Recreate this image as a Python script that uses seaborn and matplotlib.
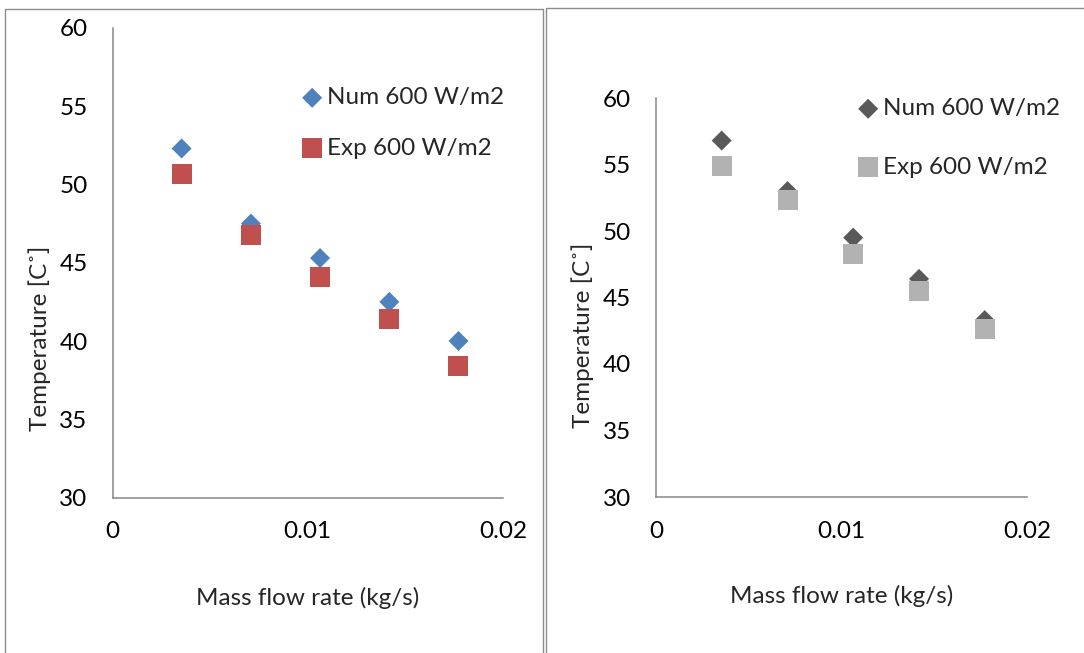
import numpy as np
import pandas as pd
import matplotlib.pyplot as plt
import seaborn as sns
from matplotlib.lines import Line2D

# data
flow_rate = [0.00354, 0.00709, 0.01063, 0.01418, 0.01772]
num_left = [52.3, 47.5, 45.3, 42.5, 40.0]
exp_left = [50.7, 46.8, 44.1, 41.4, 38.4]
num_right = [56.8, 53.0, 49.5, 46.4, 43.3]
exp_right = [54.9, 52.3, 48.3, 45.5, 42.6]
series_labels = ["Num 600 W/m2", "Exp 600 W/m2"]
x_ticks = [0, 0.01, 0.02]
x_tick_labels = ["0", "0.01", "0.02"]
y_ticks = [30, 35, 40, 45, 50, 55, 60]

W, H = 1084, 653
FS = 17.5
AXIS_GREY = "#868686"


def px_rect(left, top, right, bottom):
    """
    Convert a pixel box into figure fractions
    """
    return [left / W, 1 - bottom / H, (right - left) / W, (bottom - top) / H]


def draw_panel(ax, num, exp, colors, ylab_y, xlab_y, leg_xy, leg_spacing):
    """
    Excel-style scatter panel: two series, left/bottom axis lines only
    """
    df = pd.DataFrame({"flow": flow_rate, "num": num, "exp": exp})
    sns.scatterplot(data=df, x="flow", y="num", marker="D", s=104, color=colors[0],
                    edgecolor="none", label=series_labels[0], ax=ax, zorder=3)
    sns.scatterplot(data=df, x="flow", y="exp", marker="s", s=207, color=colors[1],
                    edgecolor="none", label=series_labels[1], ax=ax, zorder=4)
    ax.set_xlim(0, 0.02)
    ax.set_ylim(30, 60)
    ax.set_xticks(x_ticks)
    ax.set_xticklabels(x_tick_labels)
    ax.set_yticks(y_ticks)
    ax.tick_params(length=0, labelsize=FS, colors="black")
    ax.tick_params(axis="x", pad=17)
    ax.tick_params(axis="y", pad=18)
    for side in ["top", "right"]:
        ax.spines[side].set_visible(False)
    for side in ["left", "bottom"]:
        ax.spines[side].set_color(AXIS_GREY)
        ax.spines[side].set_linewidth(1.1)
    ax.grid(False)
    ax.set_facecolor("none")

    ax.set_xlabel("Mass flow rate (kg/s)", fontsize=FS, va="center")
    ax.set_ylabel("Temperature [C˚]", fontsize=FS, va="center")
    ax.xaxis.set_label_coords(0.5, xlab_y)
    ax.yaxis.set_label_coords(ylab_y[0], ylab_y[1])

    ax.legend(loc="center left", bbox_to_anchor=(leg_xy[0] / W, 1 - leg_xy[1] / H),
              bbox_transform=ax.figure.transFigure, frameon=False, fontsize=FS,
              borderpad=0, borderaxespad=0, handlelength=1.0, handletextpad=0.115,
              labelspacing=leg_spacing, markerscale=1)


sns.set_theme(style="white")
plt.rcParams["font.family"] = ["Lato", "DejaVu Sans"]

fig = plt.figure(figsize=(W / 100, H / 100), dpi=100)

ax1 = fig.add_axes(px_rect(112.5, 28, 503, 497.5))
draw_panel(ax1, num_left, exp_left, ["#4F81BD", "#C0504D"],
           ylab_y=(-0.186, 0.34), xlab_y=-0.214, leg_xy=(300, 123), leg_spacing=1.22)

ax2 = fig.add_axes(px_rect(656, 98, 1027, 497))
draw_panel(ax2, num_right, exp_right, ["#595959", "#B2B2B2"],
           ylab_y=(-0.197, 0.406), xlab_y=-0.248, leg_xy=(856, 138), leg_spacing=1.55)


# frames around the two chart objects
def px_line(xs, ys):
    fig.add_artist(Line2D([x / W for x in xs], [1 - y / H for y in ys],
                          color="#8C8C8C", linewidth=1.0, transform=fig.transFigure))


px_line([5, 5, 542.5, 542.5], [H + 5, 9, 9, H + 5])
px_line([545.7, 545.7, W + 5], [H + 5, 8, 8])

fig.savefig("out.png", dpi=100)
